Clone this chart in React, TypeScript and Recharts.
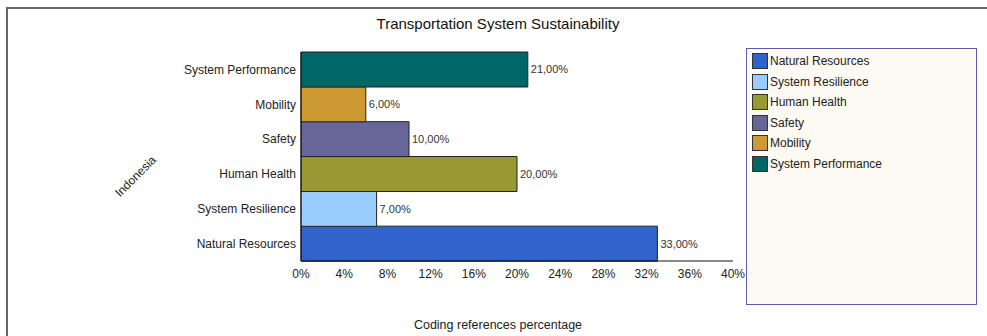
import { BarChart, Bar, XAxis, YAxis, Cell, LabelList } from 'recharts'

// legend order (bottom to top in the chart)
const categories = ['Natural Resources', 'System Resilience', 'Human Health', 'Safety', 'Mobility', 'System Performance']
const values = [33, 7, 20, 10, 6, 21]
const colors = ['#3163cc', '#99ccff', '#999933', '#666699', '#cc9933', '#006666']
const xTicks = [0, 4, 8, 12, 16, 20, 24, 28, 32, 36, 40]

const FONT = '"Liberation Sans", Arial, sans-serif'

const data = categories.map((name, i) => ({ name, value: values[i] }))

function fmtPct(v: any) {
  return `${Number(v).toFixed(2).replace('.', ',')}%`
}

function LegendBox() {
  return (
    <div
      style={{
        position: 'absolute',
        left: 746,
        top: 48,
        width: 229,
        height: 253,
        border: '1px solid #5c5ca8',
        background: '#fdfaf4',
        paddingTop: 2,
        fontFamily: FONT,
      }}
    >
      {categories.map((c, i) => (
        <div key={c} style={{ display: 'flex', alignItems: 'center', height: 20.5, paddingLeft: 5 }}>
          <span
            style={{
              width: 14,
              height: 14,
              background: colors[i],
              border: '1px solid #333',
              marginRight: 2,
            }}
          />
          <span style={{ fontSize: 12, color: '#222' }}>{c}</span>
        </div>
      ))}
    </div>
  )
}

export default function App() {
  return (
    <div style={{ position: 'absolute', left: 0, top: 0, width: 987, height: 336, background: '#fff', fontFamily: FONT }}>
      <div style={{ position: 'absolute', left: 6, top: 7, right: 0, bottom: 0, borderTop: '2px solid #666', borderLeft: '2px solid #666' }} />
      <div style={{ position: 'absolute', left: 0, width: 996, top: 15, textAlign: 'center', fontSize: 15, color: '#111' }}>
        Transportation System Sustainability
      </div>
      <div style={{ position: 'absolute', left: 0, top: 0 }}>
        <BarChart
          width={987}
          height={336}
          data={data}
          layout="vertical"
          barCategoryGap={0}
          margin={{ top: 52, right: 254, bottom: 55, left: 101 }}
        >
          <XAxis
            type="number"
            domain={[0, 40]}
            ticks={xTicks}
            tickFormatter={(v) => `${v}%`}
            interval={0}
            axisLine={{ stroke: '#111' }}
            tickLine={false}
            tick={{ fontSize: 12, fill: '#222', fontFamily: FONT }}
            height={20}
            label={{ value: 'Coding references percentage', position: 'insideBottom', offset: -48, dx: -19, fontSize: 12.5, fill: '#222', fontFamily: FONT }}
          />
          <XAxis
            xAxisId="top"
            orientation="top"
            type="number"
            domain={[0, 40]}
            tick={false}
            tickLine={false}
            height={0}
            axisLine={{ stroke: '#bbb', strokeDasharray: '1 1' }}
          />
          <YAxis
            type="category"
            dataKey="name"
            reversed
            width={200}
            axisLine={{ stroke: '#111' }}
            tickLine={false}
            tick={{ fontSize: 12, fill: '#222', fontFamily: FONT, dx: 3 }}
            label={{ value: 'Indonesia', angle: -45, position: 'insideLeft', offset: 16, dy: 38, fontSize: 12, fill: '#222', fontFamily: FONT }}
          />
          <Bar dataKey="value" stroke="#222" strokeWidth={1} isAnimationActive={false}>
            {data.map((d, i) => (
              <Cell key={d.name} fill={colors[i]} />
            ))}
            <LabelList dataKey="value" position="right" offset={3} formatter={fmtPct} style={{ fontSize: 11, fill: '#333', fontFamily: FONT }} />
          </Bar>
        </BarChart>
      </div>
      <LegendBox />
    </div>
  )
}
